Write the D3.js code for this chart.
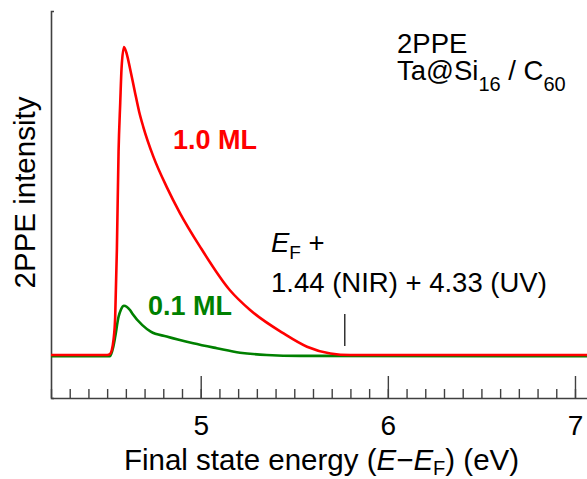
<!DOCTYPE html>
<html>
<head>
<meta charset="utf-8">
<script src="https://cdn.jsdelivr.net/npm/d3@7"></script>
<style>
  html, body { margin: 0; padding: 0; background: #fff; }
  svg text { font-family: Arial, "Liberation Sans", sans-serif; fill: #000; }
</style>
</head>
<body>
<svg id="chart" width="587" height="479"></svg>
<script>
// ── Data ──
// final state energy (eV)
const energy10 = [4.2, 4.45, 4.5, 4.515, 4.525, 4.534, 4.543, 4.552, 4.561, 4.57, 4.577, 4.59, 4.605,
  4.622, 4.648, 4.671, 4.693, 4.747, 4.818, 4.889, 4.996, 5.155, 5.264, 5.443, 5.568, 5.693, 5.8, 7.1];
const intensity10 = [0, 0, 0, 0.003, 0.016, 0.049, 0.123, 0.341, 0.66, 0.82, 0.931, 1.0, 0.977,
  0.931, 0.855, 0.79, 0.741, 0.644, 0.546, 0.461, 0.352, 0.211, 0.146, 0.07, 0.027, 0.005, 0, 0];

const energy01 = [4.2, 4.515, 4.533, 4.543, 4.561, 4.574, 4.59, 4.622, 4.634, 4.688, 4.733, 4.818,
  4.96, 5.086, 5.21, 5.353, 5.531, 7.1];
const intensity01 = [-0.004, -0.004, 0.027, 0.059, 0.124, 0.148, 0.16, 0.146, 0.135, 0.097, 0.076, 0.06,
  0.038, 0.022, 0.0075, 0.0, -0.003, -0.004];

const majorTicks = [5, 6, 7];
const minorTicks = d3.range(42, 72).map((d) => d / 10);
const fermiMark = 1.44 + 4.33; // E_F + NIR + UV

const C = { red: "#ff0000", green: "#008000", axis: "#404040" };

// ── Layout ──
const svg = d3.select("#chart");
const x = d3.scaleLinear().domain([4.2, 7.1]).range([51, 593.7]);
const y = d3.scaleLinear().domain([-43 / 308, 344 / 308]).range([398, 11]);

// ── Axes ──
const xMinor = svg.append("g").attr("transform", `translate(0,${y.range()[0]})`)
  .call(d3.axisBottom(x).tickValues(minorTicks).tickSizeInner(-9).tickSizeOuter(0).tickFormat(""));
const xMajor = svg.append("g").attr("transform", `translate(0,${y.range()[0]})`)
  .call(d3.axisBottom(x).tickValues(majorTicks).tickSizeInner(-22).tickSizeOuter(0)
    .tickPadding(17).tickFormat(d3.format("d")));
xMinor.select(".domain").remove();

const yAx = svg.append("g").attr("transform", `translate(${x.range()[0]},0)`)
  .call(d3.axisLeft(y).tickValues([]).tickSizeOuter(-3));

[xMinor, xMajor, yAx].forEach((a) => {
  a.selectAll("line").attr("stroke", C.axis).attr("stroke-width", 1.4);
  a.selectAll(".domain").attr("stroke", C.axis).attr("stroke-width", 1.6);
});
xMajor.selectAll("text").attr("font-size", "28px").attr("fill", "#000")
  .style("font-family", "Arial, 'Liberation Sans', sans-serif");

// ── Curves ──
const line = d3.line().x((d) => x(d[0])).y((d) => y(d[1])).curve(d3.curveMonotoneX);

[
  { e: energy01, v: intensity01, color: C.green },
  { e: energy10, v: intensity10, color: C.red },
].forEach(({ e, v, color }) => {
  svg.append("path")
    .datum(e.map((d, i) => [d, v[i]]))
    .attr("d", line)
    .attr("fill", "none")
    .attr("stroke", color)
    .attr("stroke-width", 2.6)
    .attr("stroke-linejoin", "round");
});

// ── Series labels ──
svg.append("text").attr("x", 173).attr("y", 148.5)
  .attr("font-size", "27px").attr("font-weight", "bold").style("fill", C.red).text("1.0 ML");
svg.append("text").attr("x", 148).attr("y", 315)
  .attr("font-size", "27px").attr("font-weight", "bold").style("fill", C.green).text("0.1 ML");

// ── Sample label ──
svg.append("text").attr("x", 397).attr("y", 53).attr("font-size", "27.5px").text("2PPE");
const s = svg.append("text").attr("x", 397).attr("y", 80).attr("font-size", "27.5px");
s.append("tspan").text("Ta@Si");
s.append("tspan").attr("font-size", "20px").attr("dy", 11).text("16");
s.append("tspan").attr("dy", -11).text(" / C");
s.append("tspan").attr("font-size", "20px").attr("dy", 11).text("60");

// ── Photon energy annotation ──
const ef = svg.append("text").attr("x", 271).attr("y", 251.5).attr("font-size", "27.5px");
ef.append("tspan").attr("font-style", "italic").text("E");
ef.append("tspan").attr("font-size", "19px").attr("dy", 7).text("F");
ef.append("tspan").attr("dy", -7).text(" +");
svg.append("text").attr("x", 271).attr("y", 291.5).attr("font-size", "27.5px")
  .text("1.44 (NIR) + 4.33 (UV)");

svg.append("line")
  .attr("x1", x(fermiMark)).attr("x2", x(fermiMark))
  .attr("y1", 314).attr("y2", 346)
  .attr("stroke", "#000").attr("stroke-width", 1.2);

// ── Axis titles ──
const xt = svg.append("text").attr("x", 321.5).attr("y", 470)
  .attr("text-anchor", "middle").attr("font-size", "29.5px");
xt.append("tspan").text("Final state energy (");
xt.append("tspan").attr("font-style", "italic").text("E");
xt.append("tspan").text("\u2212");
xt.append("tspan").attr("font-style", "italic").text("E");
xt.append("tspan").attr("font-size", "20px").attr("dy", 5).text("F");
xt.append("tspan").attr("dy", -5).text(") (eV)");

svg.append("text")
  .attr("transform", "translate(35,192.5) rotate(-90)")
  .attr("text-anchor", "middle").attr("font-size", "29.5px")
  .text("2PPE intensity");
</script>
</body>
</html>
